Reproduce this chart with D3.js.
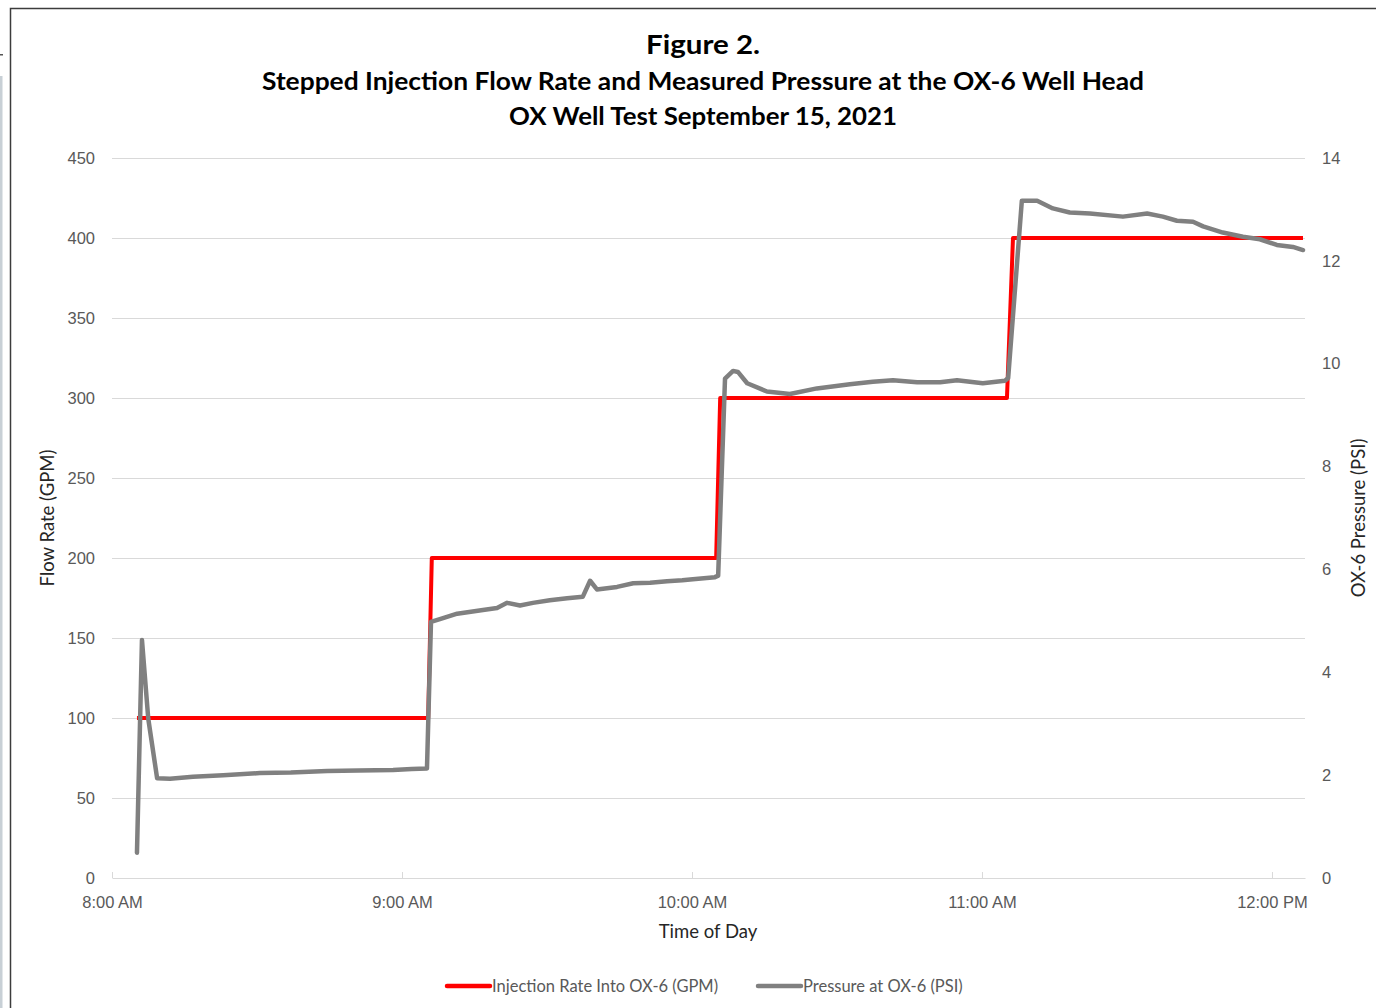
<!DOCTYPE html>
<html>
<head>
<meta charset="utf-8">
<script src="https://cdn.jsdelivr.net/npm/d3@7"></script>
<style>
  html, body { margin: 0; padding: 0; background: #fff; }
  svg { display: block; font-family: Lato, 'Open Sans', sans-serif; }
  .tick-label { fill: #595959; font-size: 16.5px; }
  .axis-title { fill: #262626; font-size: 18.5px; }
</style>
</head>
<body>
<div id="graphic"></div>
<script>
// Figure 2: stepped injection rate (left axis) and well-head pressure (right axis)

const TITLE_LINES = [
  'Figure 2.',
  'Stepped Injection Flow Rate and Measured Pressure at the OX-6 Well Head',
  'OX Well Test September 15, 2021'
];

const flowTicks = [0, 50, 100, 150, 200, 250, 300, 350, 400, 450];
const pressureTicks = [0, 2, 4, 6, 8, 10, 12, 14];

// injection rate steps, GPM
const injectionTimes = ['08:05:10', '09:05:25', '09:06:10', '10:05:00', '10:05:50', '11:05:10', '11:06:25', '12:06:25'];
const injectionRate = [100, 100, 200, 200, 300, 300, 400, 400];

// well-head pressure, PSI
const pressureTimes = [
  '08:05:10', '08:06:12', '08:07:30', '08:09:20', '08:12:00', '08:16:45', '08:23:00', '08:30:35', '08:37:00',
  '08:44:30', '08:51:00', '08:58:10', '09:02:00', '09:05:10', '09:06:00', '09:08:00', '09:11:25', '09:16:45',
  '09:19:40', '09:21:45', '09:24:25', '09:27:05', '09:30:35', '09:34:10', '09:37:25', '09:38:55', '09:40:20',
  '09:44:30', '09:47:50', '09:51:20', '09:54:50', '09:58:00', '10:00:10', '10:04:45', '10:05:25', '10:06:50',
  '10:08:30', '10:09:30', '10:11:25', '10:15:30', '10:20:15', '10:25:50', '10:32:40', '10:37:25', '10:41:35',
  '10:46:35', '10:51:20', '10:54:50', '11:00:10', '11:04:45', '11:05:25', '11:08:15', '11:11:25', '11:14:40',
  '11:18:10', '11:22:20', '11:29:10', '11:34:10', '11:37:25', '11:40:20', '11:43:40', '11:45:45', '11:49:50',
  '11:54:00', '11:57:30', '12:01:00', '12:04:20', '12:06:25'
];
const pressurePsi = [
  0.49, 4.63, 3.10, 1.94, 1.93, 1.97, 2.00, 2.04, 2.05,
  2.08, 2.09, 2.10, 2.12, 2.13, 4.98, 5.04, 5.14, 5.21,
  5.25, 5.35, 5.30, 5.35, 5.40, 5.44, 5.47, 5.78, 5.61,
  5.66, 5.73, 5.74, 5.77, 5.79, 5.81, 5.85, 5.88, 9.71,
  9.86, 9.84, 9.62, 9.46, 9.41, 9.52, 9.60, 9.65, 9.68,
  9.64, 9.64, 9.68, 9.62, 9.67, 9.72, 13.17, 13.17, 13.02,
  12.94, 12.92, 12.86, 12.92, 12.86, 12.78, 12.76, 12.67, 12.55,
  12.47, 12.42, 12.31, 12.27, 12.21
];

const SERIES = [
  { label: 'Injection Rate Into OX-6 (GPM)', colour: '#ff0000' },
  { label: 'Pressure at OX-6 (PSI)', colour: '#808080' }
];

const width = 1376;
const height = 1008;
const margin = { top: 158, right: 71, bottom: 130, left: 112 };
const chartWidth = width - margin.left - margin.right;
const chartHeight = height - margin.top - margin.bottom;

const parseTime = d3.timeParse('%H:%M:%S');

const injection = injectionTimes.map((t, i) => ({ at: parseTime(t), value: injectionRate[i] }));
const pressure = pressureTimes.map((t, i) => ({ at: parseTime(t), value: pressurePsi[i] }));

const x = d3.scaleTime().range([0, chartWidth]).domain([parseTime('08:00:00'), parseTime('12:06:50')]);
const yFlow = d3.scaleLinear().range([chartHeight, 0]).domain([0, 450]);
const yPressure = d3.scaleLinear().range([chartHeight, 0]).domain([0, 14]);

const root = d3.select('#graphic').append('svg').attr('width', width).attr('height', height);

// outer frame and the sliver of the neighbouring window on the far left
root.append('rect').attr('x', 0).attr('y', 76).attr('width', 2.5).attr('height', height).attr('fill', '#c8d0d6');
root.append('rect').attr('x', 0).attr('y', 54).attr('width', 3).attr('height', 1.5).attr('fill', '#555');
root
  .append('rect')
  .attr('x', 10.5)
  .attr('y', 8.5)
  .attr('width', width + 20)
  .attr('height', height + 20)
  .attr('fill', 'none')
  .attr('stroke', '#3c3c3c')
  .attr('stroke-width', 1.5);

const title = root.append('g').attr('text-anchor', 'middle').attr('fill', '#000').attr('font-weight', 700);
const titleRows = [
  { y: 54, size: 27, span: 114 },
  { y: 90, size: 25, span: 882 },
  { y: 125, size: 25, span: 388 }
];
titleRows.forEach((row, i) => {
  title
    .append('text')
    .attr('x', 703)
    .attr('y', row.y)
    .attr('font-size', row.size)
    .attr('textLength', row.span)
    .attr('lengthAdjust', 'spacingAndGlyphs')
    .text(TITLE_LINES[i]);
});

const svg = root.append('g').attr('transform', `translate(${margin.left},${margin.top})`);

svg
  .append('g')
  .call(d3.axisLeft(yFlow).tickSize(-chartWidth).tickValues(flowTicks.slice(1)).tickFormat(''))
  .call((g) => g.select('.domain').remove())
  .selectAll('line')
  .attr('stroke', '#d9d9d9');

svg
  .append('g')
  .call(d3.axisLeft(yFlow).tickValues(flowTicks).tickSize(0).tickPadding(17))
  .call((g) => g.select('.domain').remove())
  .selectAll('text')
  .attr('class', 'tick-label')
  .attr('font-family', null);

svg
  .append('g')
  .attr('transform', `translate(${chartWidth},0)`)
  .call(d3.axisRight(yPressure).tickValues(pressureTicks).tickSize(0).tickPadding(17))
  .call((g) => g.select('.domain').remove())
  .selectAll('text')
  .attr('class', 'tick-label')
  .attr('font-family', null);

svg
  .append('g')
  .attr('transform', `translate(0,${chartHeight})`)
  .call(
    d3
      .axisBottom(x)
      .ticks(d3.timeHour.every(1))
      .tickSizeInner(-6)
      .tickSizeOuter(0)
      .tickPadding(18)
      .tickFormat(d3.timeFormat('%-I:%M %p'))
  )
  .call((g) => g.select('.domain').attr('stroke', '#d9d9d9'))
  .call((g) => g.selectAll('line').attr('stroke', '#d9d9d9'))
  .selectAll('text')
  .attr('class', 'tick-label')
  .attr('font-family', null);

svg
  .append('text')
  .attr('class', 'axis-title')
  .attr('x', 596)
  .attr('y', chartHeight + 60)
  .attr('text-anchor', 'middle')
  .text('Time of Day');

svg
  .append('text')
  .attr('class', 'axis-title')
  .attr('transform', `translate(-58,${chartHeight / 2}) rotate(-90)`)
  .attr('text-anchor', 'middle')
  .text('Flow Rate (GPM)');

svg
  .append('text')
  .attr('class', 'axis-title')
  .attr('transform', `translate(${chartWidth + 60},${chartHeight / 2}) rotate(-90)`)
  .attr('text-anchor', 'middle')
  .text('OX-6 Pressure (PSI)');

svg
  .append('path')
  .datum(injection)
  .attr('fill', 'none')
  .attr('stroke', SERIES[0].colour)
  .attr('stroke-width', 4)
  .attr('stroke-linejoin', 'round')
  .attr(
    'd',
    d3
      .line()
      .x((d) => x(d.at))
      .y((d) => yFlow(d.value))
  );

svg
  .append('path')
  .datum(pressure)
  .attr('fill', 'none')
  .attr('stroke', SERIES[1].colour)
  .attr('stroke-width', 4.5)
  .attr('stroke-linejoin', 'round')
  .attr('stroke-linecap', 'round')
  .attr(
    'd',
    d3
      .line()
      .x((d) => x(d.at))
      .y((d) => yPressure(d.value))
  );

// legend
const legend = root.append('g').attr('transform', 'translate(447,986)');
const legendOffsets = [0, 311];
SERIES.forEach((s, i) => {
  const item = legend.append('g').attr('transform', `translate(${legendOffsets[i]},0)`);
  item
    .append('line')
    .attr('x1', 0)
    .attr('x2', 43)
    .attr('stroke', s.colour)
    .attr('stroke-width', 4.5)
    .attr('stroke-linecap', 'round');
  item.append('text').attr('class', 'tick-label').attr('x', 45).attr('dy', '0.35em').text(s.label);
});
</script>
</body>
</html>
